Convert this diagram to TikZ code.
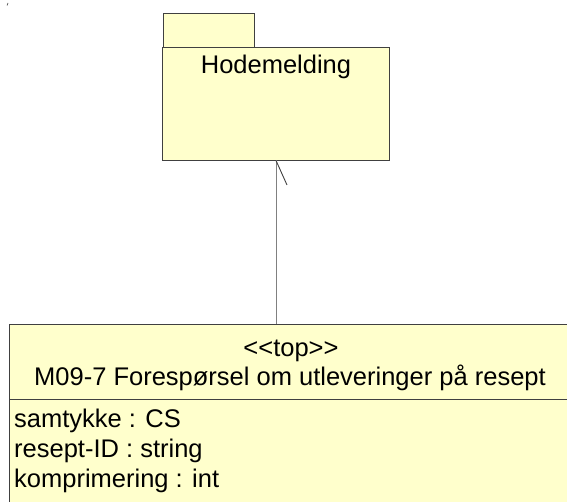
\documentclass[tikz,border=0pt]{standalone}
\usepackage{fontspec}
\setmainfont{Liberation Sans}
\definecolor{umlfill}{HTML}{FFFFCC}
\definecolor{umlline}{HTML}{404040}
\definecolor{connline}{HTML}{808080}
\begin{document}
\begin{tikzpicture}[x=1pt,y=-1pt,
  boxline/.style={draw=umlline,line width=0.9pt,fill=umlfill},
  conn/.style={draw=connline,line width=0.9pt},
  txt/.style={inner sep=0pt,font=\fontsize{25.5}{30}\selectfont},
  atxt/.style={inner sep=0pt,anchor=base west,font=\fontsize{25.5}{30}\selectfont}]
\useasboundingbox (0,0) rectangle (567,502);
% stray mark
\draw[umlline,line width=0.6pt] (7,5.5) -- (8,3);
% package
\path[boxline] (163,13) rectangle (254,47);
\path[boxline] (162,47) rectangle (389,160);
\node[txt,anchor=base] (pkg) at (276,74) {Hodemelding};
\coordinate (pkgb) at (276,160.5);
\coordinate (tick) at (287,185);
% class
\path[boxline] (9,324) rectangle (575,510);
\draw[umlline,line width=0.9pt] (9,399) -- (575,399);
\coordinate (clst) at (276,324);
\node[txt,anchor=base] (st) at (291,356) {{<}{<}top{>}{>}};
\node[txt,anchor=base] (ttl) at (290,385) {M09-7 Forespørsel om utleveringer på resept};
\node[atxt] (a1) at (14,427) {samtykke : CS};
\node[atxt] (a2) at (14,457) {resept-ID : string};
\node[atxt] (a3) at (14,487) {komprimering : int};
% connector
\draw[conn] (pkgb) -- (clst);
\draw[umlline,line width=0.9pt] (pkgb) -- (tick);
\end{tikzpicture}
\end{document}
